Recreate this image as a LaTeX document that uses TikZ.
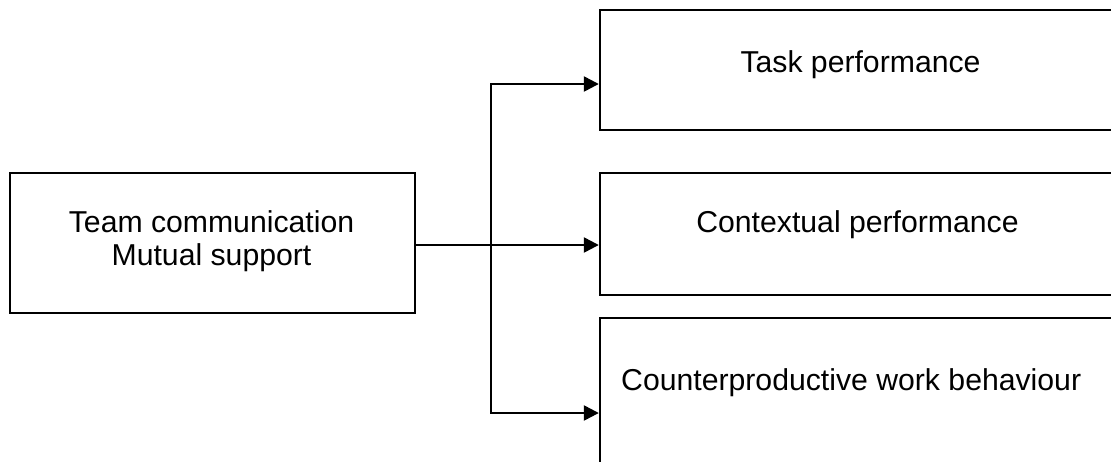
\documentclass[tikz,border=0pt]{standalone}
\usepackage{fontspec}
\setmainfont{Liberation Sans}
\usetikzlibrary{arrows.meta}

\begin{document}
\begin{tikzpicture}[x=0.5pt, y=-0.5pt, line width=1.2pt,
    >={Triangle[length=7.5pt,width=7.5pt]},
    box/.style={draw, line width=1.2pt, inner sep=0pt},
    lbl/.style={font=\fontsize{15.1pt}{16.5pt}\selectfont, inner sep=0pt, anchor=base}]
  \useasboundingbox (0,0) rectangle (1111,461);
  \clip (0,0) rectangle (1111,461);
  % boxes
  \node[box, minimum width=202.5pt, minimum height=70pt] (team) at (212.5,243) {};
  \node[box, minimum width=260pt, minimum height=60pt] (task) at (860,70) {};
  \node[box, minimum width=260pt, minimum height=61pt] (context) at (860,234) {};
  \node[box, minimum width=260pt, minimum height=80pt] (counter) at (860,398) {};
  % texts
  \node[lbl, align=center] (teamtxt) at (211.5,265) {Team communication\\Mutual support};
  \node[lbl] (tasktxt) at (860.5,72) {Task performance};
  \node[lbl] (contexttxt) at (857.5,232) {Contextual performance};
  \node[lbl, anchor=base west] (countertxt) at (620,390) {Counterproductive work behaviour};
  % connectors
  \coordinate (forktop) at (491,84);
  \coordinate (forkmid) at (491,245);
  \coordinate (forkbot) at (491,413);
  \draw[<->] (task.west |- forktop) -- (forktop) -- (forkbot) -- (counter.west |- forkbot);
  \draw[->] (team.east |- forkmid) -- (context.west |- forkmid);
\end{tikzpicture}
\end{document}
